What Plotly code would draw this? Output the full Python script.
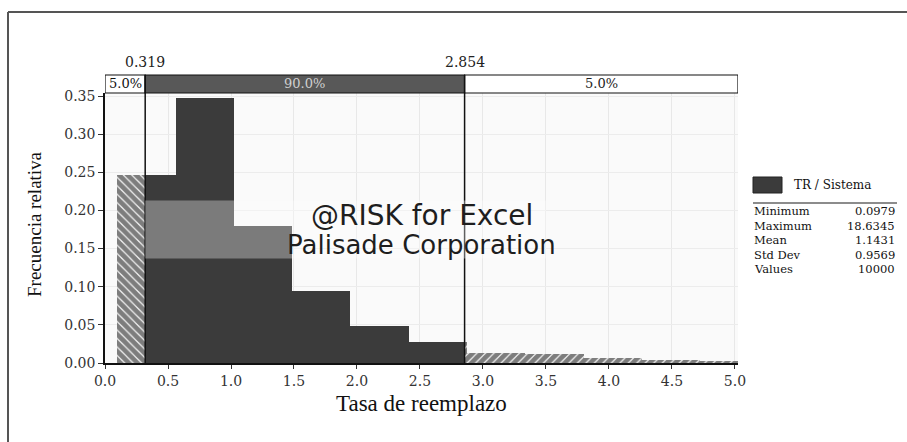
import plotly.graph_objects as go

# ---------------- data ----------------
bin_start = 0.0979
bin_width = 0.4625
rel_freq = [0.247, 0.348, 0.179, 0.095, 0.049, 0.027, 0.013, 0.012, 0.006, 0.004, 0.003]
p_low, p_high = 0.319, 2.854
band_labels = ["5.0%", "90.0%", "5.0%"]
series_name = "TR / Sistema"
stat_labels = ["Minimum", "Maximum", "Mean", "Std Dev", "Values"]
stat_values = ["0.0979", "18.6345", "1.1431", "0.9569", "10000"]
x_ticks = [0, 0.5, 1.0, 1.5, 2.0, 2.5, 3.0, 3.5, 4.0, 4.5, 5.0]
y_ticks = [0, 0.05, 0.10, 0.15, 0.20, 0.25, 0.30, 0.35]
x_title = "Tasa de reemplazo"
y_title = "Frecuencia relativa"
watermark = ["@RISK for Excel", "Palisade Corporation"]

# ---------------- layout geometry ----------------
W, H = 907, 442
ML, MR, MT, MB = 105, 169, 93, 79
PW, PH = W - ML - MR, H - MT - MB
XR = [0, 5.024]
YR = [0, 0.354]

def px2p(px):
    return (px - ML) / PW

def py2p(py):
    return (H - MB - py) / PH

def py2y(py):
    return YR[0] + (H - MB - py) / PH * (YR[1] - YR[0])

DARK = "#3b3b3b"
SERIF = "Liberation Serif"
DSERIF = "DejaVu Serif"

# split bins into left tail / middle / right tail segments
segs = {"left": [], "mid": [], "right": []}
edges = [bin_start + i * bin_width for i in range(len(rel_freq) + 1)]
for i, h in enumerate(rel_freq):
    a, b = edges[i], edges[i + 1]
    for key, lo, hi in (("left", a, min(b, p_low)),
                        ("mid", max(a, p_low), min(b, p_high)),
                        ("right", max(a, p_high), b)):
        if hi > lo:
            segs[key].append(((lo + hi) / 2, hi - lo, h))

fig = go.Figure()

def add_bars(key, pattern):
    s = segs[key]
    marker = dict(color=DARK, line=dict(width=0))
    if pattern:
        marker = dict(color="white", line=dict(width=0),
                      pattern=dict(shape=pattern, fgcolor="#0a0a0a", bgcolor="#f0f0f0",
                                   size=6, solidity=0.8))
    fig.add_trace(go.Bar(x=[c for c, w, h in s], y=[h for c, w, h in s],
                         width=[w for c, w, h in s], marker=marker,
                         showlegend=False, hoverinfo="skip"))

add_bars("left", "\\")
add_bars("mid", None)
add_bars("right", "/")

# percentile triangles
tri_y = py2y(73)
fig.add_trace(go.Scatter(x=[p_low, p_high], y=[tri_y, tri_y], mode="markers",
                         marker=dict(symbol="triangle-down", size=13, color="#222"),
                         cliponaxis=False, showlegend=False, hoverinfo="skip"))
# right band end marker
fig.add_trace(go.Scatter(x=[XR[1]], y=[py2y(84)], mode="markers",
                         marker=dict(symbol="diamond-tall-open", size=8, color="#333",
                                     line=dict(width=1.2, color="#333")),
                         cliponaxis=False, showlegend=False, hoverinfo="skip"))

shapes = []
band_y0, band_y1 = py2p(93), py2p(75)
# band
shapes.append(dict(type="rect", xref="x", yref="paper", x0=0, x1=p_low, y0=band_y0, y1=band_y1,
                   fillcolor="white", line=dict(color="#111", width=1.2)))
shapes.append(dict(type="rect", xref="x", yref="paper", x0=p_low, x1=p_high, y0=band_y0, y1=band_y1,
                   fillcolor="#585858", line=dict(color="#111", width=1.2)))
shapes.append(dict(type="rect", xref="x", yref="paper", x0=p_high, x1=XR[1], y0=band_y0, y1=band_y1,
                   fillcolor="white", line=dict(color="#111", width=1.2)))
# percentile lines
for p in (p_low, p_high):
    shapes.append(dict(type="line", xref="x", yref="paper", x0=p, x1=p, y0=0, y1=band_y1,
                       line=dict(color="#111", width=1.5)))
# watermark translucent band
shapes.append(dict(type="rect", xref="x", yref="y", x0=p_low, x1=3.5, y0=0.137, y1=0.213,
                   fillcolor="rgba(255,255,255,0.33)", line=dict(width=0), layer="above"))
# outer frame (left + top)
shapes.append(dict(type="line", xref="paper", yref="paper", x0=px2p(8), x1=px2p(8),
                   y0=py2p(12), y1=py2p(445), line=dict(color="#555", width=2)))
shapes.append(dict(type="line", xref="paper", yref="paper", x0=px2p(8), x1=px2p(910),
                   y0=py2p(12), y1=py2p(12), line=dict(color="#555", width=2)))
# legend swatch + separator
shapes.append(dict(type="rect", xref="paper", yref="paper", x0=px2p(753), x1=px2p(782),
                   y0=py2p(193), y1=py2p(177), fillcolor=DARK, line=dict(color="#222", width=1)))
shapes.append(dict(type="line", xref="paper", yref="paper", x0=px2p(753), x1=px2p(897),
                   y0=py2p(203), y1=py2p(203), line=dict(color="#666", width=1.5)))

ann = []
# percentile value labels
for p in (p_low, p_high):
    ann.append(dict(x=p, xref="x", y=py2p(62), yref="paper", text=f"{p:.3f}", showarrow=False,
                    font=dict(family=DSERIF, size=14, color="#222"), xanchor="center", yanchor="middle"))
# band labels
band_centers = [p_low / 2, (p_low + p_high) / 2, (p_high + XR[1]) / 2]
band_colors = ["#111", "#d0d0d0", "#222"]
for c, t, col in zip(band_centers, band_labels, band_colors):
    ann.append(dict(x=c, xref="x", y=py2p(84), yref="paper", text=t, showarrow=False,
                    font=dict(family=DSERIF, size=13, color=col), xanchor="center", yanchor="middle"))
# watermark
ann.append(dict(x=px2p(422), xref="paper", y=py2p(215), yref="paper", text=watermark[0], showarrow=False,
                font=dict(family="DejaVu Sans", size=28, color="#1e1e1e"), xanchor="center", yanchor="middle"))
ann.append(dict(x=px2p(421), xref="paper", y=py2p(245), yref="paper", text=watermark[1], showarrow=False,
                font=dict(family="DejaVu Sans", size=26, color="#1e1e1e"), xanchor="center", yanchor="middle"))
# axis titles
ann.append(dict(x=px2p(421), xref="paper", y=py2p(403), yref="paper", text=x_title, showarrow=False,
                font=dict(family=SERIF, size=23, color="#111"), xanchor="center", yanchor="middle"))
ann.append(dict(x=px2p(34), xref="paper", y=py2p(224), yref="paper", text=y_title, showarrow=False,
                textangle=-90, font=dict(family=SERIF, size=19, color="#111"),
                xanchor="center", yanchor="middle"))
# legend text & stats
ann.append(dict(x=px2p(792), xref="paper", y=py2p(185), yref="paper", text=series_name, showarrow=False,
                font=dict(family=DSERIF, size=12, color="#111"), xanchor="left", yanchor="middle"))
row_y = [211, 225.5, 240, 254.5, 269]
for lab, val, ry in zip(stat_labels, stat_values, row_y):
    ann.append(dict(x=px2p(753), xref="paper", y=py2p(ry), yref="paper", text=lab, showarrow=False,
                    font=dict(family=DSERIF, size=11.5, color="#111"), xanchor="left", yanchor="middle",
                    borderpad=0))
    ann.append(dict(x=px2p(896), xref="paper", y=py2p(ry), yref="paper", text=val, showarrow=False,
                    font=dict(family=DSERIF, size=11.5, color="#111"), xanchor="right", yanchor="middle",
                    borderpad=0))

fig.update_layout(
    width=W, height=H,
    margin=dict(l=ML, r=MR, t=MT, b=MB, pad=0),
    paper_bgcolor="white", plot_bgcolor="#fafafa",
    barmode="overlay", bargap=0,
    showlegend=False,
    shapes=shapes, annotations=ann,
    xaxis=dict(range=XR, tickvals=x_ticks, ticktext=[f"{v:.1f}" for v in x_ticks],
               showgrid=True, gridcolor="#e8e8e8", gridwidth=1, zeroline=False,
               showline=True, linecolor="#111", linewidth=2, ticks="outside", ticklen=4,
               tickcolor="#333", tickfont=dict(family=DSERIF, size=14, color="#333")),
    yaxis=dict(range=YR, tickvals=y_ticks, ticktext=[f"{v:.2f}" for v in y_ticks],
               showgrid=True, gridcolor="#ececec", gridwidth=1, zeroline=False,
               showline=True, linecolor="#111", linewidth=1.5, ticks="outside", ticklen=5,
               tickcolor="#333", tickfont=dict(family=DSERIF, size=14, color="#333")),
)

fig.write_html("out.html", config={"displayModeBar": False},
               post_script="document.body.style.margin='0';document.body.style.padding='0';")
